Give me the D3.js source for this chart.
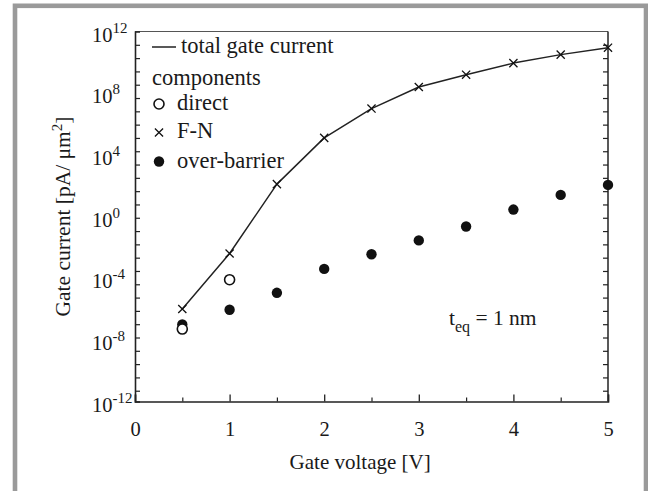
<!DOCTYPE html>
<html>
<head>
<meta charset="utf-8">
<style>
  body { margin: 0; background: #fff; }
  svg text { font-family: "Liberation Serif", "Times New Roman", serif; fill: #1a1a1a; }
</style>
</head>
<body>
<svg width="648" height="491"></svg>
<script src="https://d3js.org/d3.v7.min.js"></script>
<script>
    // gate voltage [V]
    var voltage = [0.5, 1, 1.5, 2, 2.5, 3, 3.5, 4, 4.5, 5];
    // total gate current = F-N component, log10 of pA/um^2
    var totalLog = [-6.0, -2.4, 2.1, 5.1, 7.0, 8.4, 9.2, 9.95, 10.5, 10.95];
    // direct tunnelling, only at low voltage
    var directV = [0.5, 1];
    var directLog = [-7.3, -4.1];
    // over-barrier component
    var overLog = [-7.0, -6.05, -4.95, -3.4, -2.45, -1.55, -0.65, 0.45, 1.4, 2.05];

    var xTicks = [0, 1, 2, 3, 4, 5];
    var xMinor = [0.5, 1.5, 2.5, 3.5, 4.5];
    var yLabelExp = [12, 8, 4, 0, -4, -8, -12];

    var svg = d3.select("svg");
    var margin = {top: 31.5, left: 135, right: 40, bottom: 89.5};
    var width = 648 - margin.left - margin.right,
        height = 491 - margin.top - margin.bottom;

    // grey frame round the figure
    svg.append("rect")
        .attr("x", 15).attr("y", 5.8)
        .attr("width", 631).attr("height", 500)
        .attr("fill", "none")
        .attr("stroke", "#9a9a9a")
        .attr("stroke-width", 4.6);

    var x = d3.scaleLinear().domain([0, 5]).range([0, width]);
    var y = d3.scaleLog().domain([1e-12, 1e12]).range([height, 0]);

    var g = svg.append("g").attr("transform", "translate(" + margin.left + "," + margin.top + ")");

    // plot box
    g.append("line").attr("x1", 0).attr("x2", width).attr("y1", 0).attr("y2", 0)
        .attr("stroke", "#555").attr("stroke-width", 1.2);
    g.append("line").attr("x1", width).attr("x2", width).attr("y1", 0).attr("y2", height)
        .attr("stroke", "#222").attr("stroke-width", 1.5);

    // y minor ticks, inward on both sides (spacing as in the original figure)
    var yMinor = d3.range(1, 28).map(function (k) { return Math.pow(10, 12 - k * 0.863); });
    g.append("g")
        .call(d3.axisLeft(y).tickValues(yMinor).tickSize(-5).tickFormat(""))
        .call(function (a) { a.select(".domain").attr("stroke", "#222").attr("stroke-width", 1.6); })
        .selectAll(".tick line").attr("stroke", "#222").attr("stroke-width", 1.2);
    g.append("g")
        .attr("transform", "translate(" + width + ",0)")
        .call(d3.axisRight(y).tickValues(yMinor).tickSize(-5).tickFormat(""))
        .call(function (a) { a.select(".domain").remove(); })
        .selectAll(".tick line").attr("stroke", "#222").attr("stroke-width", 1.2);

    // y labels as powers of ten
    var yl = g.append("g").selectAll("text").data(yLabelExp).enter().append("text")
        .attr("x", 92 - margin.left)
        .attr("y", function (d) { return y(Math.pow(10, d)) + 10; })
        .attr("font-size", 20.5);
    yl.append("tspan").text("10");
    yl.append("tspan").attr("dy", -9).attr("font-size", 15).text(function (d) { return d; });

    // x axis
    var xa = g.append("g").attr("transform", "translate(0," + height + ")");
    xa.call(d3.axisBottom(x).tickValues(xTicks).tickSize(-7).tickPadding(20).tickFormat(d3.format("d")))
        .call(function (a) { a.select(".domain").attr("stroke", "#222").attr("stroke-width", 1.6); })
        .call(function (a) { a.selectAll(".tick line").attr("stroke", "#222").attr("stroke-width", 1.3); })
        .selectAll(".tick text")
        .attr("font-size", 20.5);
    xa.append("g")
        .call(d3.axisBottom(x).tickValues(xMinor).tickSize(-4).tickFormat(""))
        .call(function (a) { a.select(".domain").remove(); })
        .selectAll(".tick line").attr("stroke", "#222").attr("stroke-width", 1.2);

    // axis titles
    svg.append("text")
        .attr("x", margin.left + x(2.38)).attr("y", 469)
        .attr("text-anchor", "middle").attr("font-size", 21)
        .text("Gate voltage [V]");
    var yt = svg.append("text")
        .attr("transform", "translate(70," + (margin.top + height / 2) + ") rotate(-90)")
        .attr("text-anchor", "middle").attr("font-size", 21.5);
    yt.append("tspan").text("Gate current [pA/ \u03bcm");
    yt.append("tspan").attr("dy", -8).attr("font-size", 15).text("2");
    yt.append("tspan").attr("dy", 8).text("]");

    // total gate current line
    var line = d3.line()
        .x(function (d, i) { return x(voltage[i]); })
        .y(function (d) { return y(Math.pow(10, d)); });
    g.append("path")
        .datum(totalLog)
        .attr("fill", "none")
        .attr("stroke", "#222")
        .attr("stroke-width", 1.5)
        .attr("stroke-linejoin", "round")
        .attr("d", line);

    // over-barrier points
    g.selectAll("circle.over")
        .data(overLog)
        .enter().append("circle")
        .attr("class", "over")
        .attr("cx", function (d, i) { return x(voltage[i]); })
        .attr("cy", function (d) { return y(Math.pow(10, d)); })
        .attr("r", 5.2)
        .attr("fill", "#111");

    // direct points
    g.selectAll("circle.direct")
        .data(directLog)
        .enter().append("circle")
        .attr("class", "direct")
        .attr("cx", function (d, i) { return x(directV[i]); })
        .attr("cy", function (d) { return y(Math.pow(10, d)); })
        .attr("r", 5)
        .attr("fill", "#fff")
        .attr("stroke", "#111")
        .attr("stroke-width", 1.6);

    // F-N crosses
    var cross = d3.symbol().type(d3.symbolX).size(45);
    g.selectAll("path.fn")
        .data(totalLog)
        .enter().append("path")
        .attr("class", "fn")
        .attr("transform", function (d, i) {
            return "translate(" + x(voltage[i]) + "," + y(Math.pow(10, d)) + ")";
        })
        .attr("d", cross)
        .attr("fill", "none")
        .attr("stroke", "#111")
        .attr("stroke-width", 1.3);

    // legend
    var lg = svg.append("g");
    lg.append("line").attr("x1", 152).attr("x2", 176).attr("y1", 47).attr("y2", 47)
        .attr("stroke", "#222").attr("stroke-width", 1.5);
    lg.append("text").attr("x", 181).attr("y", 53).attr("font-size", 22.5).text("total gate current");
    lg.append("text").attr("x", 152).attr("y", 85).attr("font-size", 22.5).text("components");
    lg.append("circle").attr("cx", 159).attr("cy", 104).attr("r", 5)
        .attr("fill", "#fff").attr("stroke", "#111").attr("stroke-width", 1.6);
    lg.append("text").attr("x", 177).attr("y", 110).attr("font-size", 22.5).text("direct");
    lg.append("path").attr("transform", "translate(159,132.5)").attr("d", cross)
        .attr("fill", "none").attr("stroke", "#111").attr("stroke-width", 1.3);
    lg.append("text").attr("x", 177).attr("y", 138).attr("font-size", 22.5).text("F-N");
    lg.append("circle").attr("cx", 159).attr("cy", 161.5).attr("r", 5.2).attr("fill", "#111");
    lg.append("text").attr("x", 177).attr("y", 168).attr("font-size", 22.5).text("over-barrier");

    // oxide thickness note
    var note = svg.append("text").attr("x", 449).attr("y", 325).attr("font-size", 21.5);
    note.append("tspan").text("t");
    note.append("tspan").attr("dy", 7).attr("font-size", 16).text("eq");
    note.append("tspan").attr("dy", -7).text(" = 1 nm");
</script>
</body>
</html>
